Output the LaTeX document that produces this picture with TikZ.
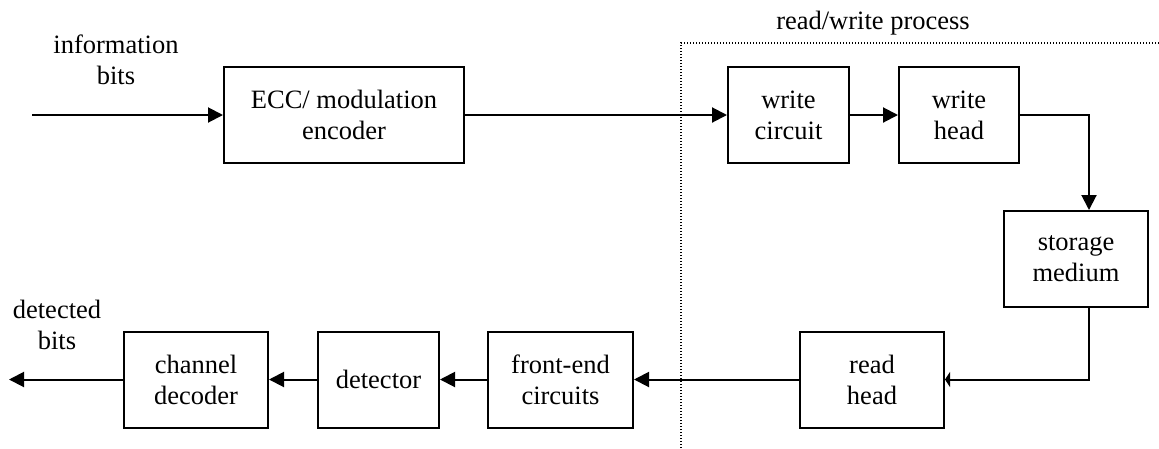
\documentclass[tikz,border=0pt]{standalone}
\usepackage{fontspec}
\setmainfont{Liberation Serif}
\usetikzlibrary{arrows.meta, positioning}

\begin{document}
\begin{tikzpicture}[
    x=1pt, y=-1pt,
    every node/.style={
        draw,
        line width=2pt,
        align=center,
        inner sep=0pt,
        minimum height=96pt,
        font=\fontsize{26.5}{31}\selectfont
    },
    txt/.style={draw=none, minimum height=0pt},
    arrow/.style={-{Triangle[length=15pt,width=15pt]}, line width=2pt},
    node distance=48pt
]

\useasboundingbox (0,0) rectangle (1159,448);

% ------------------------
% Write path (top row)
% ------------------------
\node (ecc) [minimum width=240pt] at (344,115) {ECC/ modulation\\ encoder};

\node (wcirc) [minimum width=121pt] at (788.5,115) {write\\ circuit};

\node (whead) [right=of wcirc, minimum width=120pt] {write\\ head};

\node (store) [minimum width=144pt] at (1076,259) {storage\\ medium};

% ------------------------
% Read path (bottom row)
% ------------------------
\node (rhead) [minimum width=144pt] at (872,379.5) {read\\ head};

\node (front) [minimum width=145pt] at (560.5,379.5) {front-end\\ circuits};

\node (detect) [left=47pt of front, minimum width=121pt] {detector};

\node (chdec) [left=of detect, minimum width=144pt] {channel\\ decoder};

% ------------------------
% Labels
% ------------------------
\node[txt] (inbits) at (116,60) {information\\ bits};
\node[txt] (outbits) at (57,325) {detected\\ bits};
\node[txt] (rwtitle) at (873,23) {read/write process};

\coordinate (src) at (32,115);
\coordinate (sink) at (9,379.5);

% Dotted frame of the read/write process
\coordinate (rwbot) at (681,448);
\coordinate (rwcorner) at (681,43);
\coordinate (rwright) at (1159,43);
\draw[line width=1.2pt, dash pattern=on 1.2pt off 1.8pt]
    (rwbot) -- (rwcorner) -- (rwright);

% ------------------------
% Arrows
% ------------------------
\draw[arrow] (src) -- (ecc);
\draw[arrow] (ecc) -- (wcirc);
\draw[arrow] (wcirc) -- (whead);
\draw[arrow] (whead) -| ([xshift=13pt]store.north);

\draw[-{Triangle[length=5pt,width=15pt]}, line width=2pt]
    ([xshift=13pt]store.south) |- (rhead.east);
\draw[arrow] (rhead) -- (front);
\draw[arrow] (front) -- (detect);
\draw[arrow] (detect) -- (chdec);
\draw[arrow] (chdec) -- (sink);

\end{tikzpicture}
\end{document}
